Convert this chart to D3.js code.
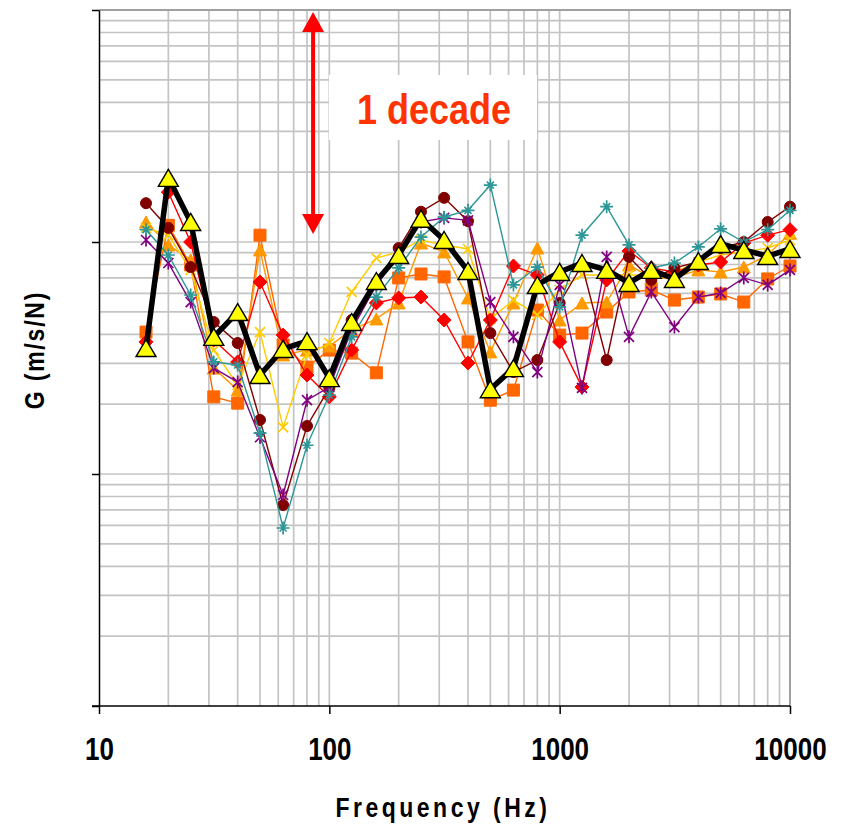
<!DOCTYPE html>
<html>
<head>
<meta charset="utf-8">
<script src="https://cdn.jsdelivr.net/npm/d3@7"></script>
<style>
  body { margin: 0; background: #fff; }
  svg { font-family: "Liberation Sans", Arial, sans-serif; }
</style>
</head>
<body>
<div id="chart"></div>
<script>
// 1/3 octave band centre frequencies (Hz)
var freqs = [16, 20, 25, 31.5, 40, 50, 63, 80, 100, 125, 160, 200, 250, 315, 400, 500, 630,
  800, 1000, 1250, 1600, 2000, 2500, 3150, 4000, 5000, 6300, 8000, 10000];

// G values (arbitrary unit, 3 decades shown)
var squares = [40.9, 118, 79.6, 21.5, 20.2, 107, 36.0, 28.9, 34.2, 33.2, 27.3, 70.0, 72.8, 70.7, 37.1,
  20.8, 23.0, 50.9, 39.7, 40.5, 49.9, 60.9, 62.1, 56.2, 57.9, 59.7, 55.1, 69.3, 78.8];
var triangles = [122, 97.1, 83.7, 28.6, 23.0, 92.4, 32.6, 34.2, 35.6, 41.8, 46.6, 54.6, 99.0, 90.6, 57.4,
  33.6, 54.6, 94.2, 46.1, 54.6, 55.1, 79.6, 70.0, 70.0, 75.8, 74.3, 78.0, 87.9, 109];
var crosses = [115, 107, 75.8, 34.2, 24.2, 40.9, 15.9, 32.6, 36.7, 60.9, 85.3, 90.6, 102, 97.1, 93.3,
  46.6, 56.2, 48.5, 62.1, 72.1, 72.1, 72.1, 72.1, 74.3, 82.0, 87.9, 90.6, 94.2, 102];
var diamonds = [37.1, 164, 100, 37.8, 30.4, 67.2, 39.7, 26.7, 21.5, 34.2, 54.6, 57.4, 57.9, 46.1, 30.1,
  46.1, 78.8, 72.1, 37.1, 23.7, 68.6, 91.5, 77.3, 74.3, 79.6, 82.0, 99.0, 107, 113];
var circles = [147, 115, 78.0, 45.2, 36.7, 17.1, 7.35, 16.1, 23.5, 46.1, 66.6, 94.2, 135, 155, 123,
  40.5, 27.5, 31.0, 54.6, 79.6, 31.0, 86.2, 68.6, 77.3, 82.0, 94.2, 100, 122, 142];
var stars = [102, 81.2, 55.1, 28.6, 24.9, 14.4, 8.12, 20.8, 23.7, 41.8, 65.3, 87.9, 122, 127, 124,
  55.1, 39.0, 27.5, 65.3, 23.5, 86.2, 39.0, 60.9, 43.0, 57.9, 60.3, 70.0, 65.3, 75.8];
var pluses = [113, 87.9, 59.1, 30.4, 29.5, 15.0, 5.85, 13.3, 21.9, 39.0, 57.9, 77.3, 105, 128, 137,
  176, 65.3, 78.0, 52.5, 107, 142, 97.1, 77.3, 81.2, 95.2, 114, 100, 113, 137];
var mean = [34.9, 189, 122, 39.0, 49.9, 26.7, 34.6, 37.4, 25.9, 45.2, 67.9, 87.9, 126, 102, 75.0,
  23.2, 28.6, 65.3, 74.3, 81.2, 75.8, 66.6, 75.8, 69.3, 82.8, 98.0, 92.4, 87.0, 93.3];

var xTicks = [10, 100, 1000, 10000];
var yTicks = [1, 10, 100, 1000];

var W = 844, H = 826;
var plotL = 99, plotR = 790, plotT = 10, plotB = 706;

var svg = d3.select("#chart").append("svg")
  .attr("width", W).attr("height", H);

var x = d3.scaleLog().domain([10, 10000]).range([plotL, plotR]);
var y = d3.scaleLog().domain([1, 1000]).range([plotB, plotT]);

// grid
var grid = svg.append("g").attr("stroke", "#c4c4c4").attr("stroke-width", 1.7);
grid.selectAll("line.v").data(x.ticks().filter(function (d) { return d > 10 && d < 10000; }))
  .enter().append("line")
  .attr("x1", function (d) { return x(d); }).attr("x2", function (d) { return x(d); })
  .attr("y1", plotT).attr("y2", plotB);
grid.selectAll("line.h").data(y.ticks().filter(function (d) { return d > 1 && d < 1000; }))
  .enter().append("line")
  .attr("x1", plotL).attr("x2", plotR)
  .attr("y1", function (d) { return y(d); }).attr("y2", function (d) { return y(d); });

// top and right frame
svg.append("path")
  .attr("d", "M" + plotL + "," + plotT + "H" + plotR + "V" + plotB)
  .attr("fill", "none").attr("stroke", "#a0a0a0").attr("stroke-width", 2);

// white label box
svg.append("rect")
  .attr("x", 329).attr("y", 75).attr("width", 208).attr("height", 65)
  .attr("fill", "#fff");

// axes
var xAxis = svg.append("g")
  .attr("transform", "translate(0," + plotB + ")")
  .call(d3.axisBottom(x).tickValues(xTicks).tickFormat(d3.format("d")).tickSize(8).tickSizeOuter(0));
var yAxis = svg.append("g")
  .attr("transform", "translate(" + plotL + ",0)")
  .call(d3.axisLeft(y).tickValues(yTicks).tickFormat("").tickSize(7).tickSizeOuter(0));
svg.selectAll(".domain, .tick line").attr("stroke", "#000").attr("stroke-width", 1.5);
xAxis.select(".domain").attr("d", "M" + (plotL - 7) + ",0H" + plotR);
xAxis.selectAll(".tick text")
  .attr("y", 0).attr("dy", null)
  .attr("transform", "translate(0,54) scale(1,1.2)")
  .attr("font-size", 26).attr("font-weight", "bold").attr("fill", "#000")
  .attr("font-family", "Liberation Sans, Arial, sans-serif");

// axis titles
svg.append("text")
  .attr("transform", "translate(443,817) scale(1,1.2)")
  .attr("text-anchor", "middle")
  .attr("font-size", 23).attr("font-weight", "bold").attr("letter-spacing", 3.5)
  .text("Frequency (Hz)");
svg.append("text")
  .attr("transform", "translate(44,350) rotate(-90) scale(1,1.2)")
  .attr("text-anchor", "middle")
  .attr("font-size", 23).attr("font-weight", "bold").attr("letter-spacing", 1.8)
  .text("G (m/s/N)");

// markers
function tri(w, h) {
  return function (cx, cy) {
    return "M" + cx + "," + (cy - h / 2) + "L" + (cx + w / 2) + "," + (cy + h / 2) +
      "L" + (cx - w / 2) + "," + (cy + h / 2) + "Z";
  };
}
var markers = {
  square: function (cx, cy) { var s = 6; return "M" + (cx - s) + "," + (cy - s) + "h" + 2 * s + "v" + 2 * s + "h" + -2 * s + "Z"; },
  diamond: function (cx, cy) { var s = 7; return "M" + cx + "," + (cy - s) + "L" + (cx + s) + "," + cy + "L" + cx + "," + (cy + s) + "L" + (cx - s) + "," + cy + "Z"; },
  circle: function (cx, cy) { var r = 5.5; return "M" + (cx - r) + "," + cy + "a" + r + "," + r + " 0 1,0 " + 2 * r + ",0a" + r + "," + r + " 0 1,0 " + -2 * r + ",0"; },
  triangle: tri(13, 12),
  big: tri(20, 17),
  cross: function (cx, cy) { var s = 5; return "M" + (cx - s) + "," + (cy - s) + "L" + (cx + s) + "," + (cy + s) + "M" + (cx + s) + "," + (cy - s) + "L" + (cx - s) + "," + (cy + s); },
  star: function (cx, cy) { var s = 5; return "M" + (cx - s) + "," + (cy - s) + "L" + (cx + s) + "," + (cy + s) + "M" + (cx + s) + "," + (cy - s) + "L" + (cx - s) + "," + (cy + s) + "M" + cx + "," + (cy - 6.5) + "V" + (cy + 6.5); },
  plus: function (cx, cy) { var s = 6.5, t = 3.5; return "M" + (cx - s) + "," + cy + "H" + (cx + s) + "M" + cx + "," + (cy - s) + "V" + (cy + s) + "M" + (cx - t) + "," + (cy - t) + "L" + (cx + t) + "," + (cy + t) + "M" + (cx + t) + "," + (cy - t) + "L" + (cx - t) + "," + (cy + t); }
};

var series = [
  { values: squares, color: "#ff6600", marker: "square", filled: true },
  { values: triangles, color: "#ff9900", marker: "triangle", filled: true },
  { values: crosses, color: "#ffcc00", marker: "cross", filled: false },
  { values: diamonds, color: "#ff0000", marker: "diamond", filled: true },
  { values: circles, color: "#800000", marker: "circle", filled: true },
  { values: stars, color: "#800080", marker: "star", filled: false },
  { values: pluses, color: "#2e9696", marker: "plus", filled: false }
];

var line = d3.line()
  .x(function (d) { return x(d.f); })
  .y(function (d) { return y(d.v); });

series.forEach(function (s) {
  var pts = freqs.map(function (f, i) { return { f: f, v: s.values[i] }; });
  var g = svg.append("g");
  g.append("path").datum(pts)
    .attr("d", line).attr("fill", "none")
    .attr("stroke", s.color).attr("stroke-width", 1.4);
  g.selectAll("path.m").data(pts).enter().append("path")
    .attr("d", function (d) { return markers[s.marker](x(d.f), y(d.v)); })
    .attr("fill", s.filled ? s.color : "none")
    .attr("stroke", s.color).attr("stroke-width", s.filled ? 1 : 1.7);
});

// mean curve
var meanPts = freqs.map(function (f, i) { return { f: f, v: mean[i] }; });
svg.append("path").datum(meanPts)
  .attr("d", line).attr("fill", "none")
  .attr("stroke", "#000").attr("stroke-width", 5.5).attr("stroke-linejoin", "round");
svg.selectAll("path.mean").data(meanPts).enter().append("path")
  .attr("d", function (d) { return markers.big(x(d.f), y(d.v)); })
  .attr("fill", "#ffff00").attr("stroke", "#000").attr("stroke-width", 1.4)
  .attr("stroke-linejoin", "miter");

// "1 decade" arrow
var ax = x(85);
var ya = y(1000) + 2, yb = y(100) - 8;
svg.append("line")
  .attr("x1", ax).attr("x2", ax).attr("y1", ya + 18).attr("y2", yb - 18)
  .attr("stroke", "#ff0000").attr("stroke-width", 4);
svg.append("path")
  .attr("d", "M" + ax + "," + ya + "l11,20h-22Z" + "M" + ax + "," + yb + "l11,-20h-22Z")
  .attr("fill", "#ff0000");
svg.append("text")
  .attr("transform", "translate(434,124) scale(1,1.2)")
  .attr("text-anchor", "middle")
  .attr("font-size", 36).attr("font-weight", "bold")
  .attr("fill", "#ff3300")
  .text("1 decade");
</script>
</body>
</html>
